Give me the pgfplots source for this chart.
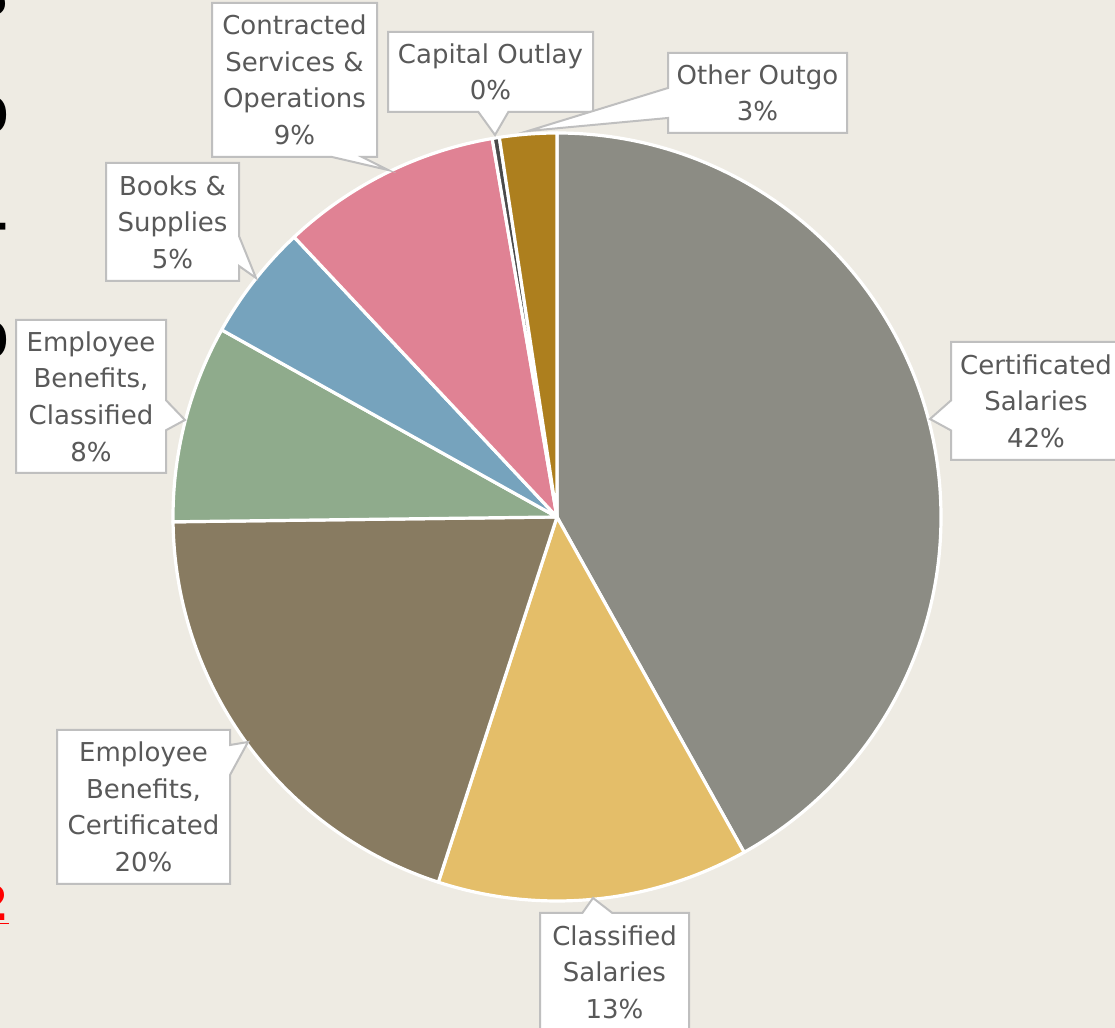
\documentclass[border=0pt]{standalone}
\usepackage{pgfplots}
\pgfplotsset{compat=1.18}
\usepackage{pgfplotstable}
\usepackage{fontspec}
\setmainfont{DejaVu Sans}
\usetikzlibrary{shapes.callouts}

\definecolor{bg}{HTML}{EEEBE3}
\definecolor{cA}{HTML}{8C8C84}
\definecolor{cB}{HTML}{E4BE69}
\definecolor{cC}{HTML}{887B61}
\definecolor{cD}{HTML}{8FAB8C}
\definecolor{cE}{HTML}{76A3BD}
\definecolor{cF}{HTML}{E08294}
\definecolor{cG}{HTML}{4A4A4A}
\definecolor{cH}{HTML}{AD7F1E}
\definecolor{txt}{HTML}{595959}
\definecolor{brd}{HTML}{BFBFBF}

\pgfplotstableread{
idx value col
0 41.9 cA
1 13.1 cB
2 19.8 cC
3 8.3 cD
4 4.9 cE
5 9.3 cF
6 0.3 cG
7 2.4 cH
}\piedata

\tikzset{lbl/.style={rectangle callout, draw=brd, line width=1pt, fill=white,
  text=txt, align=center, inner sep=0pt, callout pointer width=15pt,
  font=\fontsize{13}{18.3}\selectfont}}

\begin{document}
\begin{tikzpicture}
\def\cum{0}
\pgfplotsforeachungrouped \i in {0,...,7}{%
  \pgfplotstablegetelem{\i}{value}\of\piedata
  \pgfmathsetmacro\st{90-3.6*\cum}%
  \pgfmathsetmacro\cum{\cum+\pgfplotsretval}%
  \pgfmathsetmacro\en{90-3.6*\cum}%
  \expandafter\xdef\csname st\i\endcsname{\st}%
  \expandafter\xdef\csname en\i\endcsname{\en}%
  \pgfplotstablegetelem{\i}{col}\of\piedata
  \expandafter\xdef\csname col\i\endcsname{\pgfplotsretval}%
}
\useasboundingbox (0,0) rectangle (557.5pt,514pt);
\fill[bg] (0,0) rectangle (557.5pt,514pt);
\clip (0,0) rectangle (557.5pt,514pt);
\begin{axis}[
  at={(0,0)}, anchor=south west,
  scale only axis, width=557.5pt, height=514pt,
  xmin=0, xmax=1115, ymin=0, ymax=1028,
  hide axis, clip=false]
\pgfplotsinvokeforeach{0,...,7}{
  \filldraw[fill=\csname col#1\endcsname, draw=white, line width=1.6pt, line join=round]
    (axis cs:557,511) -- ++(\csname st#1\endcsname:192pt)
    arc[start angle=\csname st#1\endcsname, end angle=\csname en#1\endcsname, radius=192pt] -- cycle;
}
\node[lbl, minimum width=85pt, minimum height=59pt, callout absolute pointer={(axis cs:930,609)}]
  at (axis cs:1036,627) {Certificated\\Salaries\\42\%};
\node[lbl, minimum width=74.5pt, minimum height=59pt, callout absolute pointer={(axis cs:593,130)}]
  at (axis cs:614.5,56) {Classified\\Salaries\\13\%};
\node[lbl, minimum width=86.5pt, minimum height=77pt, callout absolute pointer={(axis cs:248,286)}]
  at (axis cs:143.5,221) {Employee\\Benefits,\\Certificated\\20\%};
\node[lbl, minimum width=75pt, minimum height=76.5pt, callout absolute pointer={(axis cs:185,608)}]
  at (axis cs:91,631.5) {Employee\\Benefits,\\Classified\\8\%};
\node[lbl, minimum width=66.5pt, minimum height=59pt, callout absolute pointer={(axis cs:256,750)}]
  at (axis cs:172.5,806) {Books \&\\Supplies\\5\%};
\node[lbl, minimum width=82.5pt, minimum height=77pt, callout absolute pointer={(axis cs:388,858)}]
  at (axis cs:294.5,948) {Contracted\\Services \&\\Operations\\9\%};
\node[lbl, minimum width=102.5pt, minimum height=40pt, callout absolute pointer={(axis cs:495,893)}]
  at (axis cs:490.5,956) {Capital Outlay\\0\%};
\node[lbl, minimum width=89.5pt, minimum height=40pt, callout absolute pointer={(axis cs:528,897)}]
  at (axis cs:757.5,935) {Other Outgo\\3\%};
% fragments of neighbouring text at the left edge
\begin{scope}[every node/.style={anchor=east, inner sep=0pt, font=\bfseries\fontsize{24}{24}\selectfont}]
\node at (axis cs:9,1030) {5};
\node at (axis cs:9,913) {0};
\node at (axis cs:9,688) {0};
\node at (axis cs:9,796) {-};
\node[text=red] at (axis cs:9,123) {\underline{2}};
\end{scope}
\end{axis}
\end{tikzpicture}
\end{document}
